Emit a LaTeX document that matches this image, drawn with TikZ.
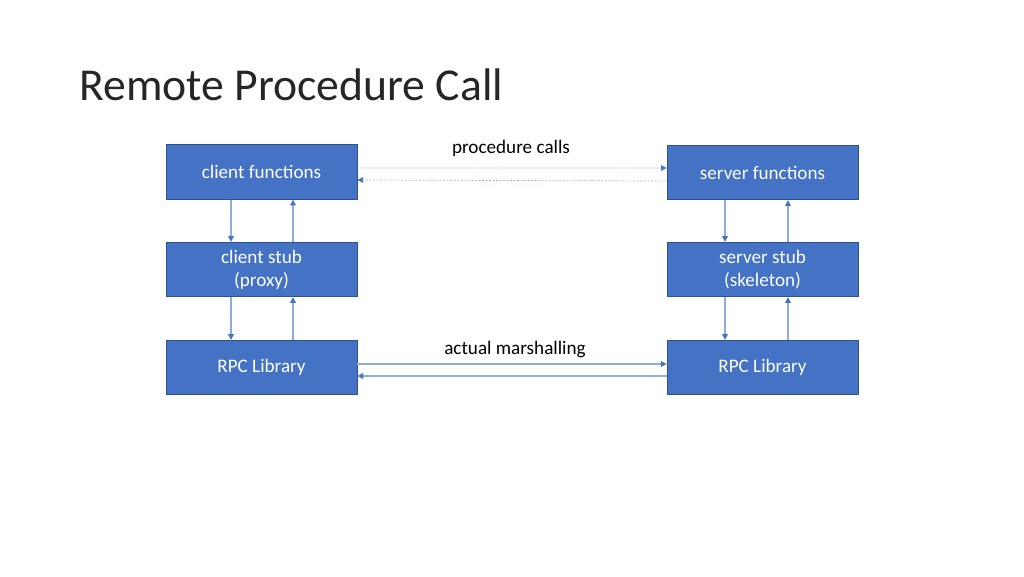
\documentclass[tikz,border=0pt]{standalone}
\usepackage{fontspec}
\setmainfont{Carlito}
\usetikzlibrary{arrows.meta}
\definecolor{boxblue}{HTML}{4472C4}
\definecolor{boxedge}{HTML}{2F528F}
\definecolor{linkblue}{HTML}{8FAADC}
\begin{document}
\begin{tikzpicture}[x=0.02cm, y=-0.02cm,
  every node/.style={font=\fontsize{10.9}{13}\selectfont},
  box/.style={rectangle, fill=boxblue, draw=boxedge, line width=0.5pt, text=white,
    minimum width=3.82cm, minimum height=1.09cm, align=center, inner sep=0pt},
  link/.style={draw=linkblue, line width=0.6pt, -{Triangle[width=3.2pt,length=3.2pt,fill=boxblue,color=boxblue]}},
  dotlink/.style={link, line width=0.4pt, dash pattern=on 1pt off 1pt}]
  \useasboundingbox (0,0) rectangle (1024,576);
  % title
  \node[anchor=base west, inner sep=0pt, font=\fontsize{26}{30}\selectfont, text=black!85] (title) at (79,100) {Remote Procedure Call};
  % client side
  \node[box] (cfun)  at (261.5,172)   {client functions};
  \node[box] (cstub) at (261.5,269.5) {client stub\\(proxy)};
  \node[box] (clib)  at (261.5,367.5) {RPC Library};
  % server side
  \node[box] (sfun)  at (762.5,172.5) {server functions};
  \node[box] (sstub) at (762.5,269.5) {server stub\\(skeleton)};
  \node[box] (slib)  at (762.5,367.5) {RPC Library};
  % up and down inside each side
  \draw[link] ([xshift=-0.61cm]cfun.south) -- ([xshift=-0.61cm]cstub.north);
  \draw[link] ([xshift=0.63cm]cstub.north) -- ([xshift=0.63cm]cfun.south);
  \draw[link] ([xshift=-0.61cm]cstub.south) -- ([xshift=-0.61cm]clib.north);
  \draw[link] ([xshift=0.63cm]clib.north) -- ([xshift=0.63cm]cstub.south);
  \draw[link] ([xshift=-0.75cm]sfun.south) -- ([xshift=-0.75cm]sstub.north);
  \draw[link] ([xshift=0.51cm]sstub.north) -- ([xshift=0.51cm]sfun.south);
  \draw[link] ([xshift=-0.75cm]sstub.south) -- ([xshift=-0.75cm]slib.north);
  \draw[link] ([xshift=0.51cm]slib.north) -- ([xshift=0.51cm]sstub.south);
  % across
  \draw[dotlink] ([yshift=0.08cm]cfun.east) -- ([yshift=0.09cm]sfun.west);
  \draw[dotlink] ([yshift=-0.17cm]sfun.west) -- ([yshift=-0.16cm]cfun.east);
  \draw[link] ([yshift=0.07cm]clib.east) -- ([yshift=0.07cm]slib.west);
  \draw[link] ([yshift=-0.17cm]slib.west) -- ([yshift=-0.17cm]clib.east);
  \node (pcalls)  at (511,148) {procedure calls};
  \node (marshal) at (515,349) {actual marshalling};
\end{tikzpicture}
\end{document}
